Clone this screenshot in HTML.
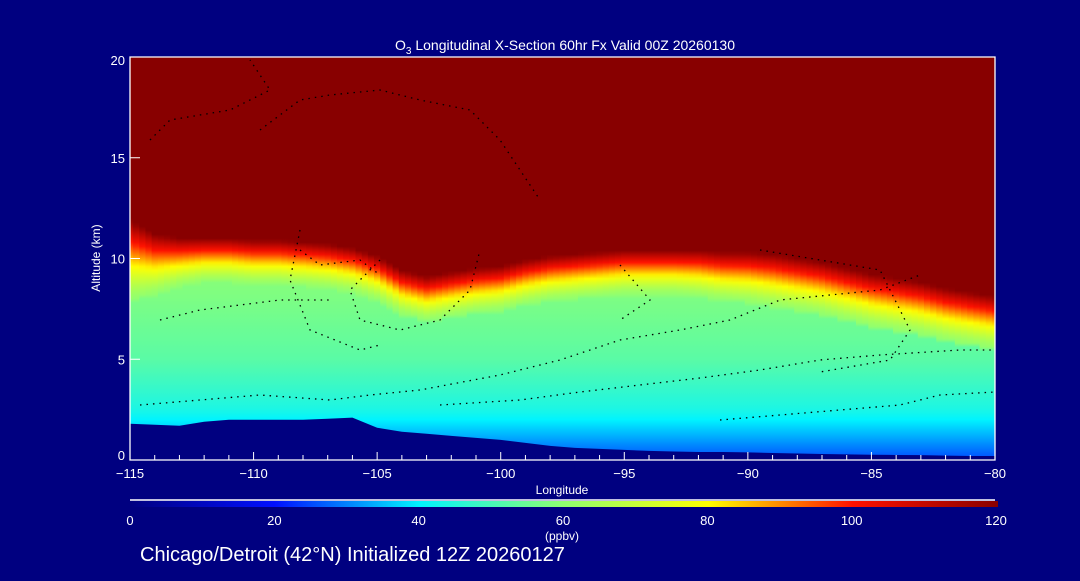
<!DOCTYPE html>
<html><head><meta charset="utf-8"><style>
body{margin:0;background:#000080;width:1080px;height:576px;overflow:hidden}
svg text{font-family:"Liberation Sans",sans-serif;fill:#fff}
</style></head><body>
<svg id="c" width="1080" height="576" viewBox="0 0 1080 576">
<defs id="defs"></defs>
<g id="cols"></g>
<path id="ground" fill="#000080"/>
<g id="contours" fill="none" stroke="#000" stroke-width="1.3" stroke-dasharray="1.5 5">
<path d="M150,140 L170,120 L230,110 L270,90 L250,60"/>
<path d="M260,130 L300,100 L330,95 L380,90 L420,100 L470,110 L500,140 L520,170 L540,200"/>
<path d="M300,230 L290,280 L310,330 L360,350 L380,345"/>
<path d="M380,260 L350,290 L360,320 L400,330 L440,320 L470,290 L480,250"/>
<path d="M160,320 L200,310 L240,305 L280,300 L330,300"/>
<path d="M140,405 L200,400 L260,395 L330,400 L370,395 L420,390 L500,375 L560,360 L620,340 L680,330 L730,320 L780,300 L880,290 L920,275"/>
<path d="M440,405 L520,400 L580,392 L640,385 L700,378 L760,370 L820,360 L880,355 L960,350 L995,350"/>
<path d="M720,420 L780,415 L840,410 L900,405 L940,395 L995,392"/>
<path d="M300,250 L320,265 L360,260 L380,275"/>
<path d="M620,265 L650,300 L620,320"/>
<path d="M760,250 L880,270 L910,330 L890,360 L820,372"/>
</g>
<g id="axes"></g>
<text x="565" y="50" font-size="14" text-anchor="middle">O<tspan font-size="10" dy="4">3</tspan><tspan dy="-4"> Longitudinal X-Section 60hr  Fx Valid 00Z 20260130</tspan></text>
<text x="100" y="258" font-size="12" text-anchor="middle" transform="rotate(-90 100 258)">Altitude (km)</text>
<text x="562" y="494" font-size="12" text-anchor="middle">Longitude</text>
<rect x="130" y="501" width="868" height="6" fill="url(#cbar)"/>
<line x1="130" y1="500" x2="995" y2="500" stroke="#fff" stroke-width="1.5"/>
<g id="cbl"></g>
<text x="562" y="540" font-size="12" text-anchor="middle">(ppbv)</text>
<text x="140" y="561" font-size="20">Chicago/Detroit (42°N) Initialized 12Z 20260127</text>
</svg>
<script>
const lons=[-115,-114,-113,-112,-111,-110,-109,-108,-107,-106,-105,-104,-103,-102,-101,-100,-99,-98,-97,-96,-95,-94,-93,-92,-91,-90,-89,-88,-87,-86,-85,-84,-83,-82,-81,-80];
const tropo=[11.9,11.2,11,11,11,10.9,10.9,10.8,10.7,10.5,10.1,9.4,9.1,9.3,9.5,9.6,9.9,10.1,10.2,10.3,10.4,10.4,10.4,10.4,10.3,10.3,10.2,10.0,9.8,9.5,9.2,9.0,8.8,8.5,8.3,8.1];
const bandw=[4,3,2.4,2.2,2.2,2.2,2.2,2.2,2.2,2.2,2.2,2.2,2.2,2.2,2.2,2.2,2.2,2.2,2.2,2.2,2.2,2.2,2.2,2.3,2.4,2.5,2.6,2.6,2.6,2.6,2.6,2.6,2.6,2.6,2.6,2.6];
const surf=[1.8,1.75,1.7,1.9,2.0,2.0,2.0,2.0,2.05,2.1,1.6,1.4,1.3,1.2,1.1,1.0,0.85,0.7,0.6,0.55,0.5,0.45,0.42,0.4,0.4,0.38,0.35,0.32,0.3,0.28,0.26,0.25,0.24,0.22,0.2,0.2];
const cbTicks=[0,20,40,60,80,100,120];
const xTicks=[-115,-110,-105,-100,-95,-90,-85,-80];
const yTicks=[0,5,10,15,20];
const NS='http://www.w3.org/2000/svg';
const X=l=>130+(l+115)/35*865, Y=a=>460-a/20*403;
const cmap=[[0,'#000080'],[20,'#0010ff'],[40,'#00f4ff'],[60,'#90ff70'],[80,'#ffff00'],[100,'#ff1000'],[120,'#880000']];
function col(v){v=Math.max(0,Math.min(120,v));for(let i=1;i<cmap.length;i++){if(v<=cmap[i][0]){const a=cmap[i-1],b=cmap[i],t=(v-a[0])/(b[0]-a[0]);const p=h=>[1,3,5].map(k=>parseInt(h.substr(k,2),16));const c1=p(a[1]),c2=p(b[1]);return 'rgb('+c1.map((c,j)=>Math.round(c+(c2[j]-c)*t)).join(',')+')';}}return '#880000';}
const defs=document.getElementById('defs'),cols=document.getElementById('cols');
let g=document.createElementNS(NS,'linearGradient');g.id='cbar';
cmap.forEach(s=>{const st=document.createElementNS(NS,'stop');st.setAttribute('offset',s[0]/120);st.setAttribute('stop-color',s[1]);g.appendChild(st);});defs.appendChild(g);
function interp(arr,l){const f=l+115,i=Math.min(Math.floor(f),arr.length-2),t=f-i;return arr[i]+(arr[i+1]-arr[i])*t;}
function prof(a,tp,w){
 if(a>=tp) return 120;
 if(a>tp-w){const t=(a-(tp-w))/w;return 60+60*Math.pow(t,1.3);}
 if(a<2.5) return 25+7.5*a;
 if(a<5) return 43.75+(a-2.5)*3.5;
 return Math.min(60,52.5+(a-5)*1.6);
}
const step=0.25;
for(let l=-115;l<-80+1e-9;l+=step){
 const tp=interp(tropo,l),w=interp(bandw,l),id='g'+Math.round((l+115)/step);
 const gr=document.createElementNS(NS,'linearGradient');gr.id=id;gr.setAttribute('x1',0);gr.setAttribute('y1',1);gr.setAttribute('x2',0);gr.setAttribute('y2',0);
 for(let a=0;a<=20;a+=0.2){const st=document.createElementNS(NS,'stop');st.setAttribute('offset',a/20);st.setAttribute('stop-color',col(prof(a,tp,w)));gr.appendChild(st);}
 defs.appendChild(gr);
 const x0=Math.max(130,X(l-step/2)),x1=Math.min(995,X(l+step/2));
 const r=document.createElementNS(NS,'rect');
 
 
 r.setAttribute('x',x0);r.setAttribute('width',x1-x0+0.5);r.setAttribute('y',Y(20));r.setAttribute('height',Y(0)-Y(20));r.setAttribute('fill','url(#'+id+')');cols.appendChild(r);
}
let d='M'+X(-115)+','+Y(0);lons.forEach((l,i)=>d+=' L'+X(l)+','+Y(surf[i]));d+=' L'+X(-80)+','+Y(0)+'Z';
document.getElementById('ground').setAttribute('d',d);
const ax=document.getElementById('axes');
function add(tag,attrs,txt){const e=document.createElementNS(NS,tag);for(const k in attrs)e.setAttribute(k,attrs[k]);if(txt!==undefined)e.textContent=txt;return e;}
ax.appendChild(add('path',{d:`M130,57 L995,57 L995,460 L130,460 Z`,fill:'none',stroke:'#fff','stroke-width':1.3}));
for(let l=-115;l<=-80;l++){ax.appendChild(add('line',{x1:X(l),x2:X(l),y1:460,y2:l%5==0?452:455,stroke:'#fff'}));}
xTicks.forEach(l=>{const t=add('text',{x:X(l),y:478,'font-size':13,'text-anchor':'middle'},String(l).replace('-','\u2212'));ax.appendChild(t);});
yTicks.forEach(a=>{ax.appendChild(add('line',{x1:130,x2:140,y1:Y(a),y2:Y(a),stroke:'#fff'}));const t=add('text',{x:125,y:Y(a)+(a==0?0:a==20?8:5),'font-size':13,'text-anchor':'end'},a);ax.appendChild(t);});
const cbl=document.getElementById('cbl');
cbTicks.forEach(v=>{const t=add('text',{x:130+v/120*866,y:525,'font-size':13,'text-anchor':'middle'},v);cbl.appendChild(t);});
</script>
</body></html>
